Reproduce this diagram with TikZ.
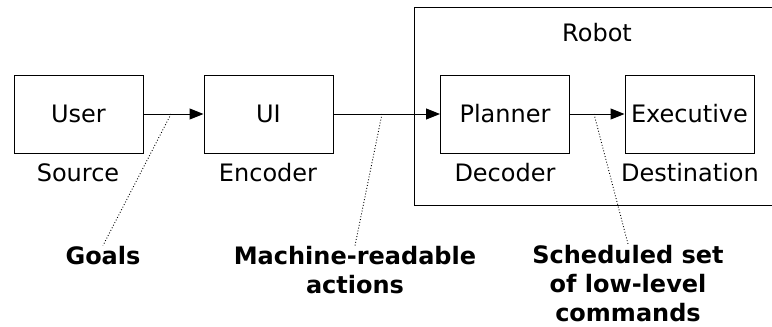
\documentclass[tikz,border=0pt]{standalone}
\usepackage{fontspec}
\setmainfont{DejaVu Sans}
\usetikzlibrary{arrows.meta}
\begin{document}
\begin{tikzpicture}[x=1pt,y=-1pt,
  box/.style={draw,line width=1pt,minimum width=129pt,minimum height=78pt,inner sep=0pt,font=\fontsize{24}{29}\selectfont},
  txt/.style={font=\fontsize{24}{29}\selectfont,inner sep=0pt},
  lbl/.style={font=\fontsize{24}{29}\selectfont\bfseries,align=center,inner sep=1pt},
  flow/.style={line width=1pt,-{Triangle[length=14pt,width=11pt]}},
  pointer/.style={line width=0.9pt,dotted}]
\useasboundingbox (0,0) rectangle (772,327);
\fill[white] (0,0) rectangle (772,327);
% Robot container
\draw[line width=1pt] (780,7) -- (414,7) -- (414,205) -- (780,205);
\node[txt] (robot) at (597,33) {Robot};
% boxes
\node[box] (user) at (78.5,114) {User};
\node[box] (ui) at (268.5,114) {UI};
\node[box] (planner) at (505,114) {Planner};
\node[box] (exec) at (689.5,114) {Executive};
% captions
\node[txt] (src) at (78,173) {Source};
\node[txt] (enc) at (268,173) {Encoder};
\node[txt] (dec) at (505,173) {Decoder};
\node[txt] (dst) at (690,173) {Destination};
% arrows
\draw[flow] (user) -- (ui);
\draw[flow] (ui) -- (planner);
\draw[flow] (planner) -- (exec);
% labels
\node[lbl] (goals) at (103,256) {Goals};
\node[lbl] (mra) at (355,270.5) {Machine-readable\\actions};
\node[lbl] (sched) at (628,283.5) {Scheduled set\\of low-level\\commands};
\coordinate (g1) at (171,114);
\coordinate (m1) at (382,114);
\coordinate (s1) at (594,114);
\draw[pointer] (g1) -- (goals.north);
\draw[pointer] (m1) -- (mra.north);
\draw[pointer] (s1) -- (sched.north);
\end{tikzpicture}
\end{document}
